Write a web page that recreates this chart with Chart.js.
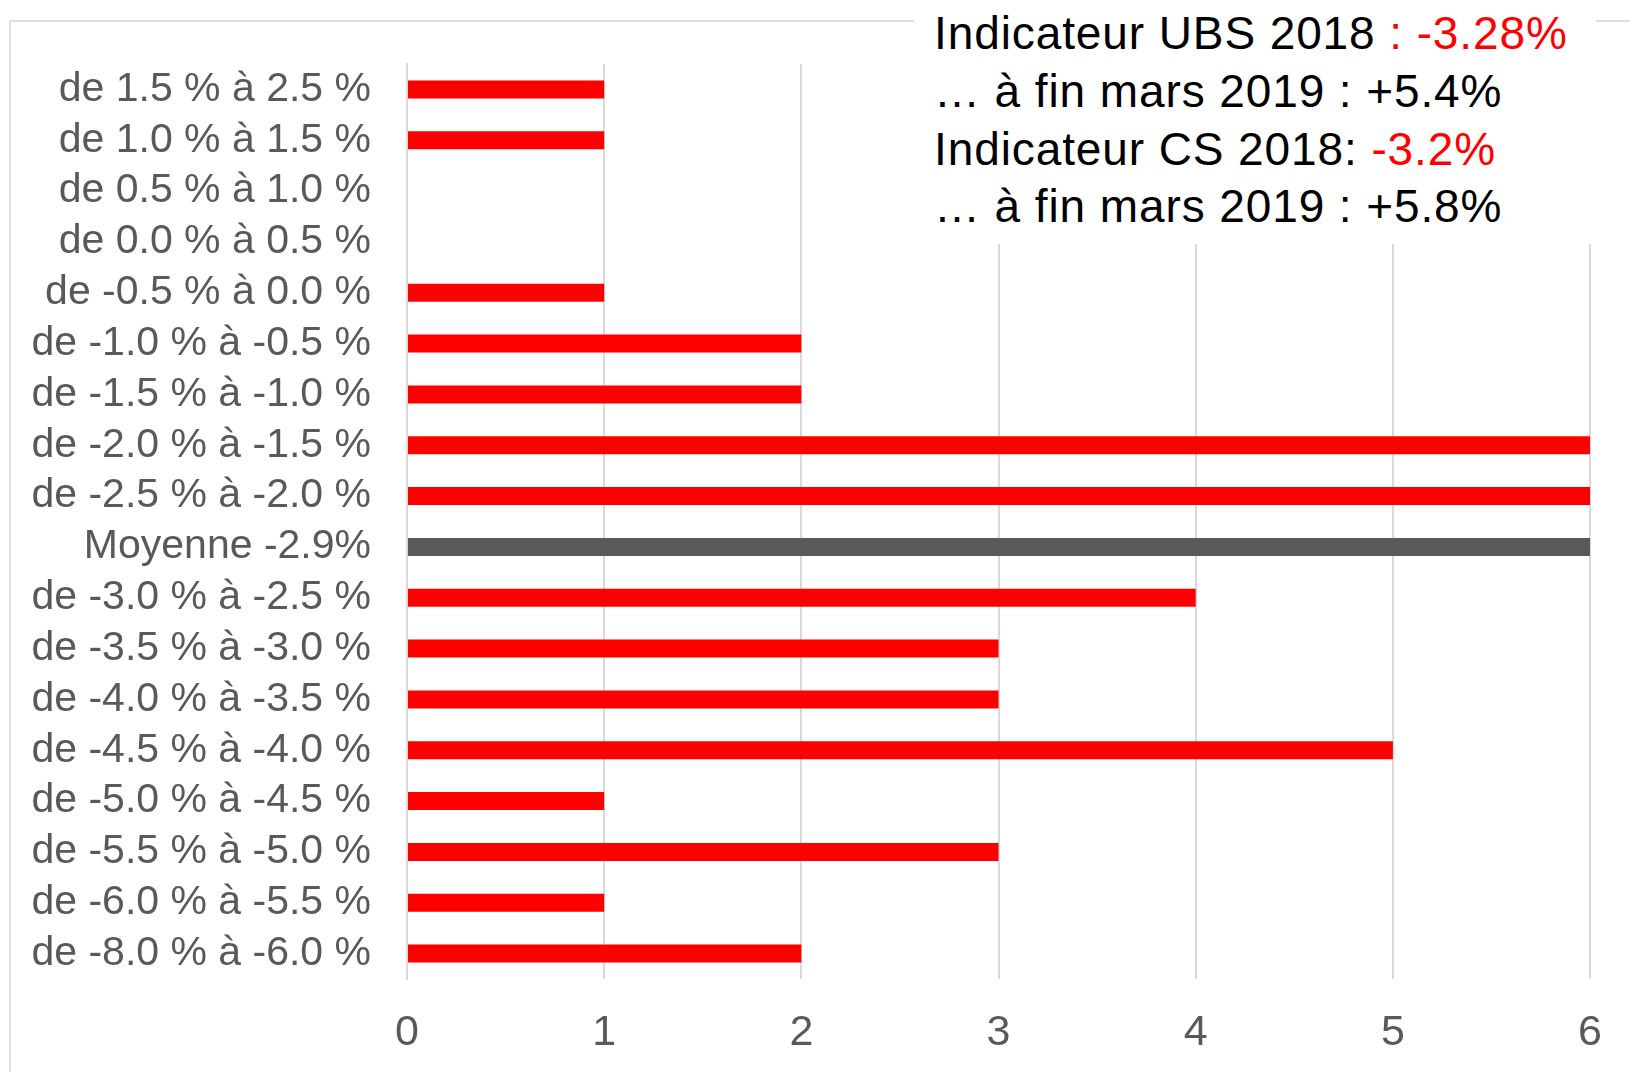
<!DOCTYPE html>
<html>
<head>
<meta charset="utf-8">
<script src="https://cdn.jsdelivr.net/npm/chart.js@4"></script>
<style>
  html, body { margin: 0; padding: 0; background: #fff; }
  #wrap { position: relative; width: 1630px; height: 1072px; overflow: hidden; }
  #frame { position: absolute; left: 9px; top: 20px; width: 1700px; height: 1200px;
           border: 2px solid #dedede; box-sizing: border-box; }
  #chartBox { position: absolute; left: 0; top: 0; width: 1630px; height: 1072px; }
  #note { position: absolute; left: 914px; top: 0; width: 682px; height: 244px; background: #fff; }
  #note div { position: absolute; left: 20px; font-family: "Liberation Sans", Arial, sans-serif;
              font-size: 46px; letter-spacing: 0.9px; color: #000; white-space: nowrap; line-height: 58px; }
  .red { color: #ff0000; }
</style>
</head>
<body>
<div id="wrap">
  <div id="frame"></div>
  <div id="chartBox"><canvas id="chartDist"></canvas></div>
  <div id="note">
    <div style="top:4px">Indicateur UBS 2018 <span class="red">: -3.28%</span></div>
    <div style="top:62px">… à fin mars 2019 : +5.4%</div>
    <div style="top:120px">Indicateur CS 2018: <span class="red">-3.2%</span></div>
    <div style="top:177px">… à fin mars 2019 : +5.8%</div>
  </div>
</div>
<script>
const categories = [
    'de 1.5 % à 2.5 %', 'de 1.0 % à 1.5 %', 'de 0.5 % à 1.0 %', 'de 0.0 % à 0.5 %',
    'de -0.5 % à 0.0 %', 'de -1.0 % à -0.5 %', 'de -1.5 % à -1.0 %', 'de -2.0 % à -1.5 %',
    'de -2.5 % à -2.0 %', 'Moyenne -2.9%', 'de -3.0 % à -2.5 %', 'de -3.5 % à -3.0 %',
    'de -4.0 % à -3.5 %', 'de -4.5 % à -4.0 %', 'de -5.0 % à -4.5 %', 'de -5.5 % à -5.0 %',
    'de -6.0 % à -5.5 %', 'de -8.0 % à -6.0 %'
];
const counts = [1, 1, 0, 0, 1, 2, 2, 6, 6, 6, 4, 3, 3, 5, 1, 3, 1, 2];
const xTicks = [0, 1, 2, 3, 4, 5, 6];

const barColors = categories.map(c => c.startsWith('Moyenne') ? '#595959' : '#ff0000');

const ctxDist = document.getElementById('chartDist').getContext('2d');
const chartDist = new Chart(ctxDist, {
    type: 'bar',
    data: {
        labels: categories,
        datasets: [{
            label: '',
            data: counts,
            backgroundColor: barColors,
            borderWidth: 0,
            inflateAmount: 0,
            barThickness: 18
        }]
    },
    options: {
        indexAxis: 'y',
        responsive: true,
        maintainAspectRatio: false,
        animation: false,
        layout: { padding: { left: 0, top: 64, right: 39, bottom: 0 } },
        plugins: {
            legend: { display: false },
            tooltip: { enabled: false }
        },
        scales: {
            x: {
                min: xTicks[0],
                max: xTicks[xTicks.length - 1],
                afterBuildTicks: s => { s.ticks = xTicks.map(v => ({ value: v })); },
                afterFit: s => { s.height = 93; },
                grid: { color: '#d9d9d9', lineWidth: 2, drawTicks: false },
                border: { display: false },
                ticks: {
                    padding: 28,
                    color: '#595959',
                    font: { family: 'Liberation Sans', size: 43 }
                }
            },
            y: {
                afterFit: s => { s.width = 407; },
                grid: { display: false },
                border: { color: '#d9d9d9', width: 2 },
                ticks: {
                    padding: 28,
                    autoSkip: false,
                    color: '#595959',
                    font: { family: 'Liberation Sans', size: 41 }
                }
            }
        }
    }
});
</script>
</body>
</html>
